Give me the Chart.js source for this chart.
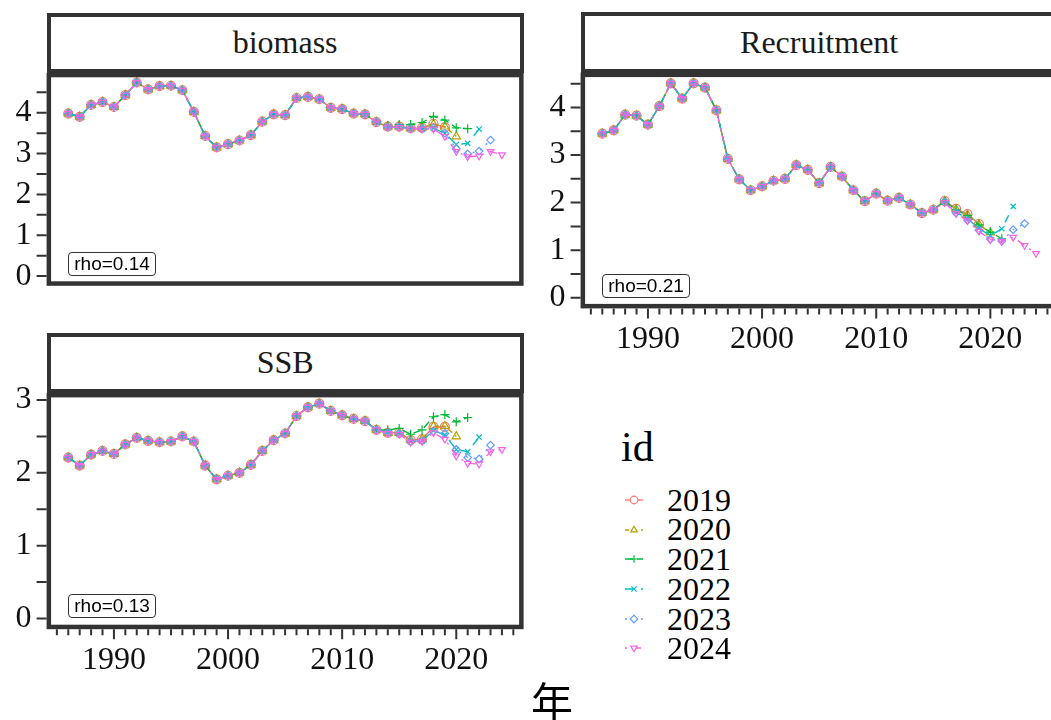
<!DOCTYPE html>
<html>
<head>
<meta charset="utf-8">
<script src="https://cdn.jsdelivr.net/npm/chart.js@4.4.1/dist/chart.umd.min.js"></script>
<style>
html, body { margin:0; padding:0; background:#fff; overflow:hidden; }
#wrap { position:relative; width:1051px; height:720px; overflow:hidden; background:#fff; }
canvas { position:absolute; }
.strip { position:absolute; box-sizing:border-box; border:4.5px solid #333; background:#fff;
  display:flex; align-items:center; justify-content:center;
  font-family:"Liberation Serif", "DejaVu Serif", serif; font-size:32px; color:#1a1a1a; }
.rho { position:absolute; box-sizing:border-box; border:1px solid #333; border-radius:4px; background:#fff;
  font-family:"Liberation Sans", Arial, sans-serif; font-size:19px; line-height:22px; padding:0 5px; color:#000; }
.leg { position:absolute; font-family:"Liberation Serif", serif; color:#000; white-space:nowrap; }
#xtitle { position:absolute; font-family:"Noto Sans CJK JP", "Noto Sans CJK SC", sans-serif; font-size:42px; line-height:42px; color:#000; }
</style>
</head>
<body>
<div id="wrap">
  <canvas id="cBiomass" width="540" height="320" style="left:0px;top:0px"></canvas>
  <canvas id="cRecruit" width="540" height="380" style="left:530px;top:0px"></canvas>
  <canvas id="cSSB" width="540" height="400" style="left:0px;top:320px"></canvas>
  <div id="xtitle">年</div>
</div>
<script>
// retrospective peels, one per terminal year
const firstYear = 1986;
const peels = ['2019', '2020', '2021', '2022', '2023', '2024'];
const colors = ['#F8766D', '#B79F00', '#00BA38', '#00BFC4', '#619CFF', '#F564E3'];
const dashes = [[], [4, 4], [8, 4], [8, 8], [2, 6], [2, 6, 8, 6]];
const shapes = ['circle', 'triangle', 'cross', 'crossRot', 'rectRot', 'triangle'];
const rotations = [0, 0, 0, 0, 0, 180];
const radii = [4.5, 4.8, 4.5, 3.8, 3.8, 3.8];

// biomass 1986-2013 (same in every peel)
const biomassBase = [3.98, 3.90, 4.19, 4.26, 4.14, 4.43, 4.74, 4.57, 4.65, 4.66, 4.55, 4.02, 3.43, 3.15,
  3.23, 3.32, 3.45, 3.78, 3.96, 3.94, 4.36, 4.39, 4.33, 4.12, 4.09, 3.98, 3.96, 3.77];
// biomass 2014 -> terminal year
const biomass2019 = [3.66, 3.66, 3.62, 3.63, 3.73, 3.64];
const biomass2020 = [3.66, 3.66, 3.62, 3.63, 3.72, 3.66, 3.42];
const biomass2021 = [3.69, 3.71, 3.71, 3.76, 3.91, 3.82, 3.63, 3.61];
const biomass2022 = [3.66, 3.65, 3.61, 3.61, 3.62, 3.50, 3.22, 3.25, 3.60];
const biomass2023 = [3.65, 3.65, 3.61, 3.61, 3.63, 3.50, 3.12, 2.99, 3.06, 3.33];
const biomass2024 = [3.65, 3.64, 3.60, 3.60, 3.60, 3.42, 3.05, 2.92, 2.94, 3.05, 2.97];

// recruitment 1986-2015
const recruitBase = [3.45, 3.52, 3.85, 3.83, 3.64, 4.03, 4.51, 4.19, 4.51, 4.42, 3.94, 2.92, 2.49, 2.26,
  2.34, 2.46, 2.50, 2.79, 2.69, 2.41, 2.75, 2.55, 2.26, 2.03, 2.19, 2.04, 2.10, 1.96, 1.78, 1.85];
// recruitment 2016 -> terminal year
const recruit2019 = [2.03, 1.87, 1.76, 1.55];
const recruit2020 = [2.03, 1.86, 1.74, 1.54, 1.37];
const recruit2021 = [2.03, 1.85, 1.73, 1.53, 1.38, 1.24];
const recruit2022 = [2.02, 1.80, 1.66, 1.46, 1.30, 1.45, 1.92];
const recruit2023 = [2.01, 1.78, 1.63, 1.42, 1.23, 1.19, 1.43, 1.56];
const recruit2024 = [2.00, 1.77, 1.62, 1.40, 1.22, 1.18, 1.27, 1.10, 0.93];

// SSB 1986-2013
const ssbBase = [2.21, 2.10, 2.25, 2.30, 2.26, 2.39, 2.48, 2.44, 2.42, 2.43, 2.50, 2.43, 2.10, 1.91,
  1.96, 2.00, 2.11, 2.30, 2.45, 2.54, 2.78, 2.90, 2.95, 2.85, 2.79, 2.74, 2.71, 2.59];
// SSB 2014 -> terminal year
const ssb2019 = [2.55, 2.55, 2.45, 2.46, 2.63, 2.63];
const ssb2020 = [2.55, 2.55, 2.45, 2.46, 2.64, 2.64, 2.50];
const ssb2021 = [2.59, 2.61, 2.53, 2.59, 2.77, 2.80, 2.70, 2.76];
const ssb2022 = [2.55, 2.54, 2.43, 2.44, 2.58, 2.52, 2.32, 2.29, 2.49];
const ssb2023 = [2.55, 2.54, 2.43, 2.44, 2.57, 2.54, 2.32, 2.21, 2.19, 2.38];
const ssb2024 = [2.54, 2.53, 2.42, 2.43, 2.55, 2.46, 2.23, 2.13, 2.12, 2.29, 2.32];

const rhoTexts = { biomass: 'rho=0.14', Recruitment: 'rho=0.21', SSB: 'rho=0.13' };

// ticks, panel border (ggplot style, clipped inside)
const panelDeco = {
  id: 'panelDeco',
  afterDraw(chart, args, o) {
    const ctx = chart.ctx, a = chart.chartArea, x = chart.scales.x, y = chart.scales.y;
    ctx.save();
    ctx.strokeStyle = '#333';
    ctx.lineWidth = 2;
    ctx.beginPath();
    for (let v = 0; v <= y.max; v += 0.5) {
      const py = y.getPixelForValue(v);
      ctx.moveTo(a.left - 10, py); ctx.lineTo(a.left, py);
    }
    if (o.xTicks) {
      for (let yr = Math.ceil(x.min); yr <= x.max; yr++) {
        const px = x.getPixelForValue(yr);
        ctx.moveTo(px, a.bottom); ctx.lineTo(px, a.bottom + (yr % 10 === 0 ? 10 : 6));
      }
    }
    ctx.stroke();
    ctx.lineWidth = 4.5;
    ctx.strokeRect(a.left + 2.25, a.top + 2.25, a.width - 4.5, a.height - 4.5);
    ctx.restore();
  }
};

function makePanel(cfg) {
  const all = cfg.tails.map(t => cfg.base.concat(t));
  const hi = Math.max(...all.flat());
  const lastYear = firstYear + Math.max(...all.map(s => s.length)) - 1;
  const xpad = 0.05 * (lastYear - firstYear);
  const datasets = all.map((vals, i) => ({
    label: peels[i],
    data: vals.map((v, k) => ({ x: firstYear + k, y: v })),
    borderColor: colors[i],
    borderWidth: 1.4,
    borderDash: dashes[i],
    pointStyle: shapes[i],
    pointRotation: rotations[i],
    pointRadius: radii[i],
    pointBorderColor: colors[i],
    pointBackgroundColor: 'rgba(0,0,0,0)',
    pointBorderWidth: 1.2,
    order: peels.length - 1 - i
  }));
  const tickFont = { family: 'Liberation Serif', size: 32 };
  const canvas = document.getElementById(cfg.id);
  const chart = new Chart(canvas, {
    type: 'line',
    data: { datasets: datasets },
    plugins: [panelDeco],
    options: {
      responsive: false,
      animation: false,
      layout: { padding: cfg.padding },
      plugins: { legend: { display: false }, tooltip: { enabled: false }, panelDeco: { xTicks: cfg.xAxis } },
      scales: {
        x: {
          type: 'linear',
          min: firstYear - xpad,
          max: lastYear + xpad,
          display: cfg.xAxis,
          grid: { display: false, drawTicks: false },
          border: { display: false },
          ticks: { stepSize: 10, includeBounds: false, maxRotation: 0, padding: 12, color: '#111', font: tickFont,
            callback: v => String(v) },
          afterFit: s => { s.height = cfg.xHeight; }
        },
        y: {
          min: -0.05 * hi,
          max: hi * 1.05,
          grid: { display: false, drawTicks: false },
          border: { display: false },
          ticks: { stepSize: 1, includeBounds: false, padding: 15, color: '#111', font: tickFont,
            callback: v => String(v) },
          afterFit: s => { s.width = cfg.yWidth; }
        }
      }
    }
  });

  // strip on top of the panel and the rho label at (1986, 0)
  const left = parseFloat(canvas.style.left), top = parseFloat(canvas.style.top);
  const a = chart.chartArea;
  const wrap = document.getElementById('wrap');
  const strip = document.createElement('div');
  strip.className = 'strip';
  strip.textContent = cfg.title;
  strip.style.left = (left + a.left) + 'px';
  strip.style.width = a.width + 'px';
  strip.style.top = (top + a.top - 60.3) + 'px';
  strip.style.height = '60.3px';
  wrap.appendChild(strip);

  const rho = document.createElement('div');
  rho.className = 'rho';
  rho.textContent = rhoTexts[cfg.title];
  rho.style.left = (left + chart.scales.x.getPixelForValue(firstYear)) + 'px';
  rho.style.top = (top + chart.scales.y.getPixelForValue(0) - 24) + 'px';
  rho.style.height = '24px';
  wrap.appendChild(rho);
  return chart;
}

makePanel({ id: 'cBiomass', title: 'biomass', base: biomassBase,
  tails: [biomass2019, biomass2020, biomass2021, biomass2022, biomass2023, biomass2024],
  padding: { left: 0, top: 72.8, right: 16.4, bottom: 11.3 }, yWidth: 46.6, xAxis: false, xHeight: 0 });
makePanel({ id: 'cRecruit', title: 'Recruitment', base: recruitBase,
  tails: [recruit2019, recruit2020, recruit2021, recruit2022, recruit2023, recruit2024],
  padding: { left: 0, top: 72.6, right: 12.3, bottom: 0 }, yWidth: 50.6, xAxis: true, xHeight: 71.6 });
makePanel({ id: 'cSSB', title: 'SSB', base: ssbBase,
  tails: [ssb2019, ssb2020, ssb2021, ssb2022, ssb2023, ssb2024],
  padding: { left: 0, top: 72.9, right: 16.4, bottom: 0 }, yWidth: 46.6, xAxis: true, xHeight: 90.8 });

// x title
const xt = document.getElementById('xtitle');
xt.style.left = (552 - 21) + 'px';
xt.style.top = (700 - 21) + 'px';

// legend
(function () {
  const wrap = document.getElementById('wrap');
  const title = document.createElement('div');
  title.className = 'leg';
  title.textContent = 'id';
  title.style.cssText += 'left:621px;top:426px;font-size:42px;line-height:42px;';
  wrap.appendChild(title);
  const centers = [500, 529.5, 559, 589, 619, 648];
  const ns = 'http://www.w3.org/2000/svg';
  peels.forEach((p, i) => {
    const svg = document.createElementNS(ns, 'svg');
    svg.setAttribute('width', 22); svg.setAttribute('height', 20);
    svg.style.cssText = 'position:absolute;left:623px;top:' + (centers[i] - 10) + 'px;overflow:visible';
    const ln = document.createElementNS(ns, 'line');
    ln.setAttribute('x1', 2); ln.setAttribute('y1', 10); ln.setAttribute('x2', 20); ln.setAttribute('y2', 10);
    ln.setAttribute('stroke', colors[i]); ln.setAttribute('stroke-width', 1.4);
    if (dashes[i].length) ln.setAttribute('stroke-dasharray', dashes[i].join(' '));
    svg.appendChild(ln);
    const r = 3.8, cx = 11, cy = 10;
    let m;
    if (shapes[i] === 'circle') {
      m = document.createElementNS(ns, 'circle');
      m.setAttribute('cx', cx); m.setAttribute('cy', cy); m.setAttribute('r', r);
    } else {
      m = document.createElementNS(ns, 'path');
      let d;
      if (shapes[i] === 'triangle' && rotations[i] === 0)
        d = `M${cx} ${cy - r} L${cx + r * 0.866} ${cy + r / 2} L${cx - r * 0.866} ${cy + r / 2} Z`;
      else if (shapes[i] === 'triangle')
        d = `M${cx} ${cy + r} L${cx + r * 0.866} ${cy - r / 2} L${cx - r * 0.866} ${cy - r / 2} Z`;
      else if (shapes[i] === 'cross')
        d = `M${cx - r} ${cy} L${cx + r} ${cy} M${cx} ${cy - r} L${cx} ${cy + r}`;
      else if (shapes[i] === 'crossRot') {
        const k = r * 0.707;
        d = `M${cx - k} ${cy - k} L${cx + k} ${cy + k} M${cx + k} ${cy - k} L${cx - k} ${cy + k}`;
      } else
        d = `M${cx} ${cy - r} L${cx + r} ${cy} L${cx} ${cy + r} L${cx - r} ${cy} Z`;
      m.setAttribute('d', d);
    }
    m.setAttribute('fill', 'white'); m.setAttribute('stroke', colors[i]); m.setAttribute('stroke-width', 1.2);
    svg.appendChild(m);
    wrap.appendChild(svg);
    const t = document.createElement('div');
    t.className = 'leg';
    t.textContent = p;
    t.style.cssText += 'left:667px;top:' + (centers[i] - 16.3) + 'px;font-size:32px;line-height:32px;';
    wrap.appendChild(t);
  });
})();
</script>
</body>
</html>
